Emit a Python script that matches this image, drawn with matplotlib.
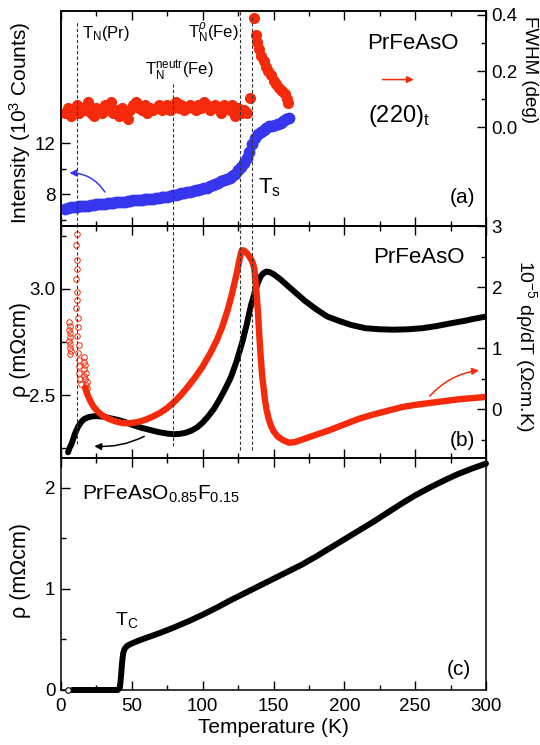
import matplotlib as mlp
mlp.use('Agg')
from matplotlib import pyplot as plt
from matplotlib.ticker import MultipleLocator, FixedLocator

plt.rcParams['font.family'] = ['Liberation Sans', 'DejaVu Sans']
plt.rcParams['mathtext.fontset'] = 'custom'
plt.rcParams['mathtext.rm'] = 'Liberation Sans'
plt.rcParams['mathtext.it'] = 'Liberation Sans:italic'
plt.rcParams['mathtext.bf'] = 'Liberation Sans:bold'

# ---- panel (a): (220)t peak intensity and FWHM, PrFeAsO ----
int_T = [3, 5, 7, 9, 11, 13, 15, 17, 19, 21, 23, 25, 27, 29, 31, 33, 35, 37, 39, 41,
         43, 45, 47, 49, 51, 53, 55, 57, 59, 61, 63, 65, 67, 69, 71, 73, 75, 77, 79, 81,
         83, 85, 87, 89, 91, 93, 95, 97, 99, 101, 103, 105, 107, 109, 111, 113, 115, 117, 119, 121,
         123, 125, 127, 129, 131, 133, 135, 137, 139, 141, 143, 145, 147, 149, 151, 153, 155, 157, 159, 161]
intensity = [6.85, 6.9, 6.95, 7.0, 7.0, 7.05, 7.05, 7.1, 7.1, 7.15, 7.15, 7.2, 7.2, 7.25, 7.25, 7.3, 7.3, 7.3, 7.35, 7.35,
             7.4, 7.4, 7.45, 7.45, 7.5, 7.5, 7.55, 7.55, 7.6, 7.6, 7.65, 7.65, 7.7, 7.7, 7.75, 7.8, 7.8, 7.85, 7.9, 7.95,
             8.0, 8.05, 8.1, 8.15, 8.2, 8.25, 8.3, 8.35, 8.4, 8.45, 8.5, 8.6, 8.7, 8.8, 8.9, 9.0, 9.1, 9.2, 9.3, 9.4,
             9.6, 9.85, 10.1, 10.4, 10.8, 11.3, 11.9, 12.4, 12.7, 12.9, 13.05, 13.2, 13.3, 13.35, 13.4, 13.5, 13.6, 13.7, 13.85, 14.0]

fw_T = [3, 5, 7, 9, 11, 13, 15, 17, 19, 21, 23, 25, 27, 29, 31, 33, 35, 37, 39, 41,
        43, 45, 47, 49, 51, 53, 55, 57, 59, 61, 63, 65, 67, 69, 71, 73, 75, 77, 79, 81,
        83, 85, 87, 89, 91, 93, 95, 97, 99, 101, 103, 105, 107, 109, 111, 113, 115, 117, 119, 121,
        123, 125, 127, 129, 131,
        133.5, 136, 137.5, 138.5, 140, 141.5, 143, 144.5, 146, 148, 150, 152, 154, 156, 158, 159.5, 160]
fwhm = [0.05, 0.07, 0.04, 0.06, 0.08, 0.05, 0.07, 0.06, 0.09, 0.05,
        0.04, 0.07, 0.06, 0.05, 0.08, 0.06, 0.09, 0.05, 0.06, 0.04,
        0.07, 0.05, 0.03, 0.06, 0.08, 0.09, 0.07, 0.06, 0.08, 0.05,
        0.07, 0.06, 0.07, 0.08, 0.06, 0.07, 0.08, 0.06, 0.07, 0.09,
        0.07, 0.08, 0.06, 0.07, 0.08, 0.07, 0.06, 0.08, 0.07, 0.09,
        0.08, 0.06, 0.07, 0.08, 0.07, 0.05, 0.08, 0.07, 0.06, 0.08,
        0.04, 0.07, 0.05, 0.06, 0.05,
        0.105, 0.39, 0.33, 0.305, 0.28, 0.255, 0.235, 0.215, 0.2, 0.185, 0.165, 0.155, 0.14, 0.13, 0.12, 0.1, 0.085]

# ---- panel (b): resistivity and d rho/dT, PrFeAsO ----
rb_T = [5, 6, 7.5, 9, 10, 12, 14, 16, 19, 23, 27, 31, 35, 40, 45, 51, 57, 63, 69, 75,
        80, 84, 88, 92, 96, 100, 104, 108, 112, 116, 120, 124, 128, 131, 134, 137, 139, 141, 143, 145,
        147, 150, 155, 160, 166, 172, 180, 188, 196, 205, 215, 225, 235, 245, 255, 265, 275, 285, 292, 300]
rho_b = [2.23, 2.25, 2.27, 2.30, 2.32, 2.35, 2.37, 2.385, 2.395, 2.40, 2.40, 2.397, 2.39, 2.383, 2.373, 2.358, 2.345, 2.335, 2.325, 2.318,
         2.315, 2.317, 2.322, 2.332, 2.347, 2.37, 2.40, 2.435, 2.48, 2.53, 2.585, 2.66, 2.75, 2.83, 2.92, 2.99, 3.03, 3.06, 3.075, 3.082,
         3.08, 3.07, 3.045, 3.015, 2.98, 2.945, 2.905, 2.87, 2.85, 2.83, 2.815, 2.81, 2.808, 2.81, 2.815, 2.825, 2.838, 2.85, 2.86, 2.87]

dr_T = [17, 19, 21, 23, 26, 29, 32, 36, 40, 44, 48, 52, 56, 60, 65, 70, 75, 80, 85, 90,
        95, 100, 105, 110, 114, 118, 121, 124, 126, 127.5, 129, 131, 133, 135, 136.5, 138, 139, 140, 141, 142,
        143, 144, 145, 146.5, 148, 150, 153, 157, 161, 165, 170, 175, 180, 190, 200, 210, 220, 230, 240, 250,
        260, 270, 280, 290, 300]
drdT = [0.35, 0.22, 0.12, 0.04, -0.04, -0.10, -0.14, -0.18, -0.21, -0.23, -0.23, -0.22, -0.2, -0.17, -0.12, -0.06, 0.02, 0.12, 0.24, 0.38,
        0.53, 0.7, 0.9, 1.13, 1.36, 1.65, 1.92, 2.22, 2.45, 2.6, 2.6, 2.56, 2.5, 2.42, 2.3, 1.9, 1.6, 1.2, 0.85, 0.55,
        0.35, 0.15, 0.0, -0.15, -0.26, -0.36, -0.45, -0.51, -0.55, -0.54, -0.5, -0.46, -0.42, -0.34, -0.25, -0.16, -0.09, -0.03, 0.03, 0.07,
        0.1, 0.13, 0.16, 0.18, 0.2]

# scattered low-temperature derivative points
lowT = [5.5, 6, 5.5, 6.5, 6, 5.5, 6.5, 6, 7, 6.5, 11, 10.5, 11.5, 11, 10.5, 11.5, 11, 10.5, 12, 12,
        11.5, 12.5, 12, 13, 12.5, 13, 13.5, 14, 16, 16.5, 17, 16, 17.5, 16.5, 17, 18, 17.5, 18.5]
lowD = [1.42, 1.36, 1.3, 1.24, 1.18, 1.12, 1.06, 1.0, 0.95, 0.9, 2.87, 2.69, 2.45, 2.29, 2.13, 1.92, 1.79, 1.65, 1.5, 1.35,
        1.2, 1.05, 0.92, 0.8, 0.7, 0.6, 0.5, 0.42, 0.85, 0.78, 0.72, 0.65, 0.6, 0.55, 0.5, 0.45, 0.4, 0.35]

# ---- panel (c): resistivity, PrFeAsO0.85F0.15 ----
rc_T = [8, 12, 16, 20, 25, 30, 35, 40, 41.5, 42, 42.5, 43, 43.5, 44, 45, 47, 50, 55, 60, 70,
        80, 90, 100, 110, 120, 130, 140, 150, 160, 170, 180, 190, 200, 210, 220, 230, 240, 250, 260, 270,
        280, 290, 300]
rho_c = [0, 0, 0, 0, 0, 0, 0, 0, 0.02, 0.08, 0.16, 0.25, 0.32, 0.37, 0.41, 0.44, 0.46, 0.49, 0.515, 0.565,
         0.62, 0.68, 0.745, 0.815, 0.89, 0.96, 1.03, 1.1, 1.17, 1.24, 1.32, 1.405, 1.49, 1.575, 1.66, 1.75, 1.84, 1.925, 2.0, 2.07,
         2.135, 2.19, 2.24]
open_T = [5]
open_rho = [0]

# transition temperatures (dashed lines)
T_lines = [11, 79, 126, 135]

red = '#f52a0a'
blue = '#3636ee'

fig = plt.figure(figsize=(5.4, 7.45), dpi=100)
L, W = 61 / 540, 425 / 540
ax_a = fig.add_axes([L, 1 - 226 / 745, W, 215 / 745])
ax_b = fig.add_axes([L, 1 - 458 / 745, W, 232 / 745], sharex=ax_a)
ax_c = fig.add_axes([L, 1 - 690 / 745, W, 232 / 745], sharex=ax_a)
ax_a2 = ax_a.twinx()
ax_b2 = ax_b.twinx()


def style(ax, left=True, right=False, top=True, bottom=True):
    ax.tick_params(which='both', direction='in', left=left, right=right, top=top, bottom=bottom,
                   labelleft=left, labelright=right, width=1, labelsize=13.5, pad=4)
    ax.tick_params(which='major', length=6.5)
    ax.tick_params(which='minor', length=3.5)
    for s in ax.spines.values():
        s.set_linewidth(1.1)


for ax in (ax_a, ax_b, ax_c):
    style(ax)
for ax in (ax_a2, ax_b2):
    style(ax, left=False, right=True, top=False, bottom=False)

ax_a.set_xlim(0, 300)
ax_c.xaxis.set_major_locator(MultipleLocator(50))
ax_c.xaxis.set_minor_locator(MultipleLocator(25))
ax_c.tick_params(axis='x', pad=6)
ax_a.tick_params(labelbottom=False)
ax_b.tick_params(labelbottom=False)

# panel (a)
ax_a.plot(int_T, intensity, 'o', color=blue, ms=7.5, mec=blue)
ax_a.set_ylim(5.5, 22.35)
ax_a.yaxis.set_major_locator(FixedLocator([8, 12]))
ax_a.yaxis.set_minor_locator(FixedLocator([6, 10]))
ax_a2.plot(fw_T, fwhm, 'o', color=red, ms=7, mec=red)
ax_a2.set_ylim(-0.351, 0.414)
ax_a2.yaxis.set_major_locator(FixedLocator([0.0, 0.2, 0.4]))
ax_a2.yaxis.set_minor_locator(FixedLocator([0.1, 0.3]))

ax_a.set_ylabel('Intensity (10$^3$ Counts)', fontsize=15)
ax_a.yaxis.set_label_coords(-0.066, 0.48)
ax_a2.set_ylabel('FWHM (deg)', fontsize=13.5, rotation=270, va='bottom')
ax_a2.yaxis.set_label_coords(1.083, 0.726)

ax_a.annotate('', xy=(4, 9.65), xytext=(32, 7.98),
              arrowprops=dict(arrowstyle='-|>', color=blue, lw=1.1, mutation_scale=10,
                              connectionstyle='arc3,rad=0.3'))
ax_a2.annotate('', xy=(251, 0.17), xytext=(225, 0.17),
               arrowprops=dict(arrowstyle='-|>', color=red, lw=1.1, mutation_scale=10))

ta = ax_a.transAxes
ax_a.text(0.049, 0.874, 'T$_\\mathrm{N}$(Pr)', transform=ta, fontsize=12)
ax_a.text(0.198, 0.698, 'T$_\\mathrm{N}^\\mathrm{neutr}$(Fe)', transform=ta, fontsize=12)
ax_a.text(0.299, 0.874, 'T$_\\mathrm{N}^{\\rho}$(Fe)', transform=ta, fontsize=12)
ax_a.text(0.72, 0.823, 'PrFeAsO', transform=ta, fontsize=16)
ax_a.text(0.722, 0.484, '(220)$_\\mathrm{t}$', transform=ta, fontsize=17)
ax_a.text(0.463, 0.153, 'T$_\\mathrm{s}$', transform=ta, fontsize=16)
ax_a.text(0.915, 0.107, '(a)', transform=ta, fontsize=15)

# panel (b)
ax_b.plot(rb_T, rho_b, '-', color='black', lw=4.3, solid_capstyle='round')
ax_b.set_ylim(2.203, 3.297)
ax_b.yaxis.set_major_locator(FixedLocator([2.5, 3.0]))
ax_b.yaxis.set_minor_locator(FixedLocator([2.25, 2.75, 3.25]))
ax_b2.plot(dr_T, drdT, '-', color=red, lw=4.6, solid_capstyle='round')
ax_b2.plot(lowT, lowD, 'o', mfc='none', mec=red, ms=4, mew=0.7)
ax_b2.set_ylim(-0.8, 3.0)
ax_b2.yaxis.set_major_locator(FixedLocator([0, 1, 2, 3]))
ax_b2.yaxis.set_minor_locator(FixedLocator([-0.5, 0.5, 1.5, 2.5]))

ax_b.set_ylabel('ρ (mΩcm)', fontsize=15.5)
ax_b.yaxis.set_label_coords(-0.07, 0.466)
ax_b2.set_ylabel('10$^{-5}$ dρ/dT (Ωcm.K)', fontsize=14, rotation=270, va='bottom')
ax_b2.yaxis.set_label_coords(1.064, 0.483)

ax_b.annotate('', xy=(21.6, 2.26), xytext=(60.5, 2.311),
              arrowprops=dict(arrowstyle='-|>', color='black', lw=1.1, mutation_scale=10,
                              connectionstyle='arc3,rad=-0.15'))
ax_b2.annotate('', xy=(297, 0.64), xytext=(259, 0.18),
               arrowprops=dict(arrowstyle='-|>', color=red, lw=1.1, mutation_scale=10,
                               connectionstyle='arc3,rad=-0.2'))

tb = ax_b.transAxes
ax_b.text(0.734, 0.84, 'PrFeAsO', transform=tb, fontsize=16)
ax_b.text(0.915, 0.05, '(b)', transform=tb, fontsize=15)

# dashed lines across panels (a) and (b)
a_top = [0.95, 0.67, 1.0, 0.98]
b_bot = [0.06, 0.05, 0.035, 0.035]
for T, ya, yb in zip(T_lines, a_top, b_bot):
    ax_a2.axvline(T, 0, ya, color='#333333', lw=0.8, ls=(0, (3, 2)))
    ax_b2.axvline(T, yb, 1, color='#333333', lw=0.8, ls=(0, (3, 2)))

# panel (c)
ax_c.plot(rc_T, rho_c, '-', color='black', lw=4.3, solid_capstyle='round', clip_on=False)
ax_c.plot(open_T, open_rho, 'o', mfc='white', mec='black', ms=4, mew=0.8, clip_on=False, zorder=5)
ax_c.set_ylim(0, 2.295)
ax_c.yaxis.set_major_locator(FixedLocator([0, 1, 2]))
ax_c.yaxis.set_minor_locator(FixedLocator([0.5, 1.5]))
ax_c.set_ylabel('ρ (mΩcm)', fontsize=15.5)
ax_c.yaxis.set_label_coords(-0.07, 0.517)
ax_c.set_xlabel('Temperature (K)', fontsize=15, labelpad=2)

tc = ax_c.transAxes
ax_c.text(0.049, 0.819, 'PrFeAsO$_{0.85}$F$_{0.15}$', transform=tc, fontsize=15)
ax_c.text(0.127, 0.28, 'T$_\\mathrm{C}$', transform=tc, fontsize=14)
ax_c.text(0.908, 0.065, '(c)', transform=tc, fontsize=15)

plt.savefig('out.png', dpi=100)
